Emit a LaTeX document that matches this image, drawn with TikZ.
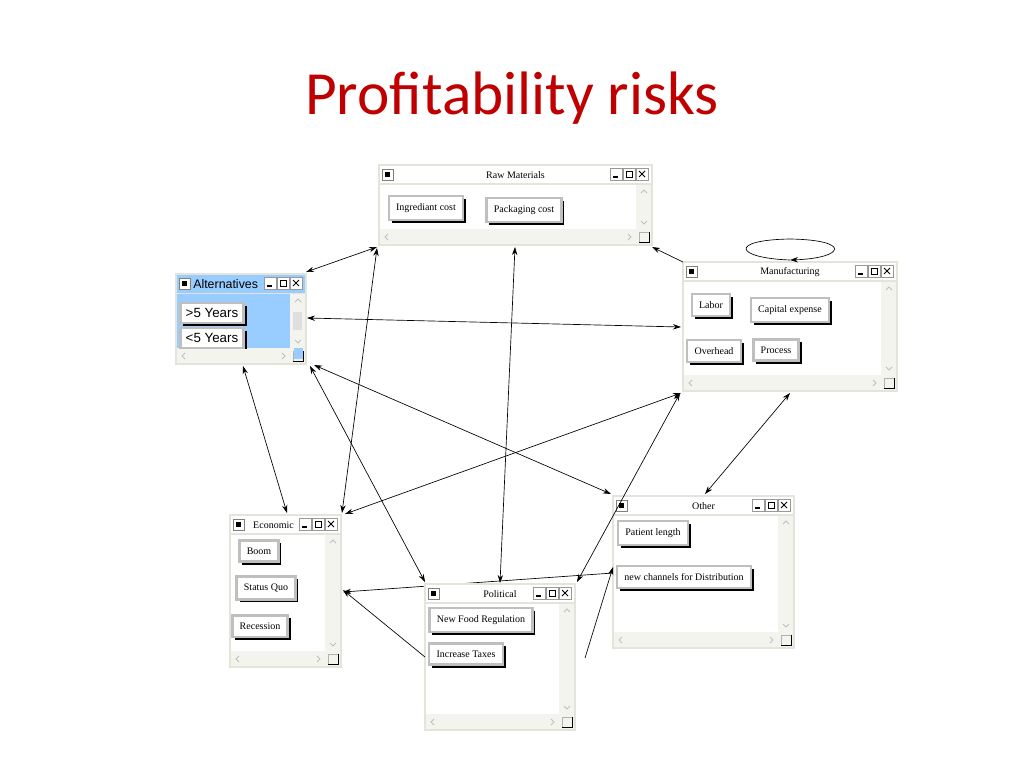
\documentclass[tikz,border=0pt]{standalone}
\usepackage{fontspec}
\setmainfont{Liberation Serif}
\newfontfamily\titlefont{Carlito}
\newfontfamily\arialf{Liberation Sans}
\usetikzlibrary{arrows.meta,shadows,fit}
\definecolor{frame}{RGB}{228,228,218}
\definecolor{sb}{RGB}{244,244,238}
\definecolor{altblue}{RGB}{153,204,255}
\definecolor{titlered}{RGB}{192,0,0}
\tikzset{
  ttl/.style={font=\fontsize{7.5}{8}\selectfont, inner sep=0},
  btn/.style={fill=white, draw=black!25, line width=1.8pt, inner xsep=5.5pt, inner ysep=5.5pt,
    font=\fontsize{7.5}{8}\selectfont,
    drop shadow={shadow xshift=2.2pt, shadow yshift=-2.2pt, fill=black, opacity=1}},
  abtn/.style={btn, font=\arialf\fontsize{10}{11}\selectfont, inner xsep=4pt, inner ysep=4pt},
  arr/.style={-{Stealth[length=6pt,width=4pt]}, line width=0.5pt},
  both/.style={{Stealth[length=6pt,width=4pt]}-{Stealth[length=6pt,width=4pt]}, line width=0.5pt},
  chev/.style={gray!50, line width=0.6pt}
}
\newcommand\wnd[6]{%
  \fill[white] (#2,#3) rectangle (#4,#5);
  \fill[sb] ({#4-16},{#3+19}) rectangle (#4,#5);
  \fill[sb] (#2,{#5-16}) rectangle (#4,#5);
  \draw[frame, line width=1.5pt] (#2,#3) rectangle (#4,#5);
  \draw[frame, line width=1pt] (#2,{#3+19})--(#4,{#3+19});
  \draw[gray, fill=white] ({#2+3},{#3+4}) rectangle ({#2+14},{#3+15});
  \fill[black] ({#2+6},{#3+7}) rectangle ({#2+11},{#3+12});
  \foreach \k in {42,29,16}{\draw[gray!80, fill=white] ({#4-\k},{#3+3}) rectangle ({#4-\k+12},{#3+15});}
  \draw[black, line width=1pt] ({#4-39},{#3+12})--({#4-34},{#3+12});
  \draw[black, line width=0.6pt] ({#4-26},{#3+6}) rectangle ({#4-20},{#3+12});
  \draw[black, line width=0.7pt] ({#4-13},{#3+6})--({#4-7},{#3+12}) ({#4-13},{#3+12})--({#4-7},{#3+6});
  \draw[chev] ({#4-11},{#3+28})--({#4-8},{#3+25})--({#4-5},{#3+28});
  \draw[chev] ({#4-11},{#5-24})--({#4-8},{#5-21})--({#4-5},{#5-24});
  \draw[chev] ({#2+9},{#5-11})--({#2+6},{#5-8})--({#2+9},{#5-5});
  \draw[chev] ({#4-24},{#5-11})--({#4-21},{#5-8})--({#4-24},{#5-5});
  \draw[black, line width=0.7pt] ({#4-13},{#5-3})--({#4-3},{#5-3})--({#4-3},{#5-13});
  \draw[gray!60, line width=0.5pt] ({#4-13},{#5-3})--({#4-13},{#5-13})--({#4-3},{#5-13});
  \node[ttl] at ({(#2+#4)/2},{#3+10}) {#6};
  \coordinate (#1-nw) at (#2,#3); \coordinate (#1-se) at (#4,#5);
  \node[fit=(#1-nw)(#1-se), inner sep=0] (#1) {};
}
\begin{document}
\begin{tikzpicture}[x=0.75pt,y=-0.75pt]
\useasboundingbox[fill=white] (0,0) rectangle (1024,768);
\node[font=\titlefont\fontsize{46}{48}\selectfont, text=titlered] (title) at (512,98) {Profitability risks};

% connectors (under windows)
\coordinate (o1) at (613,573); \coordinate (e1) at (343,592);
\draw[arr] (o1) -- (e1);

% windows
\wnd{raw}{379}{165}{652}{245}{Raw Materials}
\wnd{alt}{176}{274}{306}{364}{}
\fill[altblue] (177,275) rectangle (305,293);
\fill[altblue] (177,294) rectangle (290,348);
\fill[altblue] (294,348) rectangle (303,359);
\draw[gray, fill=white] (179,278) rectangle (190,289);
\fill[black] (182,281) rectangle (187,286);
\foreach \k in {42,29,16}{\draw[gray!80, fill=white] ({306-\k},{277}) rectangle ({306-\k+12},{289});}
\draw[black, line width=1pt] (267,286)--(272,286);
\draw[black, line width=0.6pt] (280,280) rectangle (286,286);
\draw[black, line width=0.7pt] (293,280)--(299,286) (293,286)--(299,280);
\node[anchor=west, font=\arialf\fontsize{9.3}{11}\selectfont, inner sep=0] (alttitle) at (193,284) {Alternatives};
\fill[gray!25] (293,312) rectangle (302,330);
\wnd{man}{683}{262}{897}{391}{Manufacturing}
\wnd{eco}{230}{515}{341}{667}{\hspace*{-18pt}Economic}
\wnd{oth}{613}{496}{794}{648}{Other}
\wnd{pol}{425}{584}{575}{730}{Political}

% buttons
\node[btn] (ing) at (426,208) {Ingrediant cost};
\node[btn] (pack) at (524,210) {Packaging cost};
\node[abtn] (gt5) at (212,313) {>5 Years};
\begin{scope}
\clip (178,294) rectangle (290,348);
\node[abtn] (lt5) at (212,338) {<5 Years};
\end{scope}
\node[btn] (labor) at (711,305) {Labor};
\node[btn] (cap) at (790,310) {Capital expense};
\node[btn] (ovh) at (714,351) {Overhead};
\node[btn] (proc) at (776,350) {Process};
\node[btn] (boom) at (259,551) {Boom};
\node[btn] (sq) at (266,588) {Status Quo};
\node[btn] (rec) at (260,626) {Recession};
\node[btn] (nfr) at (481,620) {New Food Regulation};
\node[btn] (tax) at (466,654) {Increase Taxes};
\node[btn] (pat) at (653,533) {Patient length};
\node[btn] (chan) at (684,577) {new channels for Distribution};

% self loop
\coordinate (mtop) at (790,260);
\draw[arr] (mtop) .. controls (735,258) and (728,240) .. (790,239) .. controls (852,240) and (845,258) .. (mtop);

% connector coordinates
\coordinate (a1) at (306,272); \coordinate (r1) at (377,247);
\coordinate (r2) at (377,248); \coordinate (e2) at (342,513);
\coordinate (r3) at (515,247); \coordinate (p3) at (500,583);
\coordinate (m4) at (683,262); \coordinate (r4) at (652,247);
\coordinate (a5) at (307,318); \coordinate (m5) at (681,327);
\coordinate (a6) at (243,366); \coordinate (e6) at (287,513);
\coordinate (a7) at (310,366); \coordinate (p7) at (425,582);
\coordinate (a8) at (314,365); \coordinate (o8) at (611,494);
\coordinate (m9) at (681,393); \coordinate (e9) at (345,514);
\coordinate (m10) at (680,393); \coordinate (p10) at (577,582);
\coordinate (m11) at (790,393); \coordinate (o11) at (705,494);
\coordinate (p13) at (425,657); \coordinate (e13) at (343,590);
\coordinate (p14) at (585,658); \coordinate (o14) at (613,567);

\draw[both] (a1) -- (r1);
\draw[both] (r2) -- (e2);
\draw[both] (r3) -- (p3);
\draw[arr] (m4) -- (r4);
\draw[both] (a5) -- (m5);
\draw[both] (a6) -- (e6);
\draw[both] (a7) -- (p7);
\draw[both] (a8) -- (o8);
\draw[both] (m9) -- (e9);
\draw[both] (m10) -- (p10);
\draw[both] (m11) -- (o11);
\draw[arr] (p13) -- (e13);
\draw[arr] (p14) -- (o14);
\end{tikzpicture}
\end{document}
